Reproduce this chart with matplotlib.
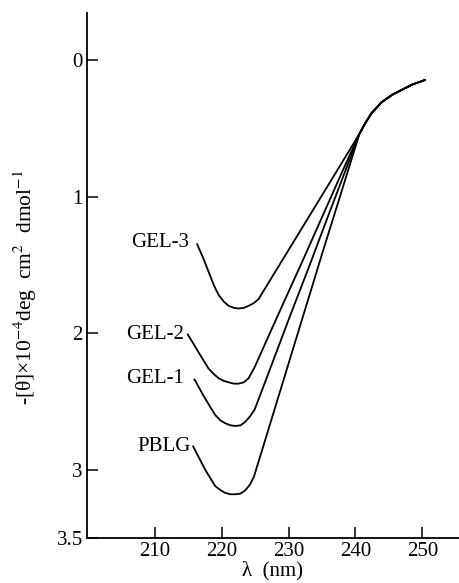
import matplotlib
matplotlib.use("Agg")
import matplotlib.pyplot as plt

plt.rcParams['font.family'] = ['Liberation Serif', 'DejaVu Serif']
plt.rcParams['mathtext.fontset'] = 'stix'

# shared long-wavelength tail
tail_x = [241.5, 242.4, 243.9, 245.5, 246.9, 248.5, 250.4]
tail_y = [0.46, 0.39, 0.31, 0.255, 0.22, 0.18, 0.147]

gel3_x = [216.3, 217.2, 218.0, 218.8, 219.5, 220.3, 221.0, 221.8, 222.5, 223.3, 224.0, 224.8, 225.5, 228.0, 231.0, 234.0, 237.0, 240.6]
gel3_y = [1.35, 1.45, 1.55, 1.65, 1.72, 1.77, 1.80, 1.815, 1.82, 1.815, 1.80, 1.78, 1.75, 1.55, 1.31, 1.07, 0.83, 0.54]

gel2_x = [214.9, 216.5, 218.0, 218.8, 219.5, 220.3, 221.0, 221.8, 222.5, 223.3, 224.0, 224.9, 227.0, 229.4, 232.0, 235.0, 238.0, 240.6]
gel2_y = [2.01, 2.14, 2.26, 2.30, 2.33, 2.35, 2.36, 2.37, 2.37, 2.36, 2.33, 2.25, 2.02, 1.76, 1.48, 1.15, 0.82, 0.54]

gel1_x = [215.9, 217.5, 219.0, 219.8, 220.5, 221.3, 222.0, 222.8, 223.5, 224.2, 224.9, 227.0, 230.0, 233.0, 236.0, 238.5, 240.6]
gel1_y = [2.34, 2.48, 2.60, 2.64, 2.66, 2.675, 2.68, 2.675, 2.65, 2.61, 2.56, 2.29, 1.90, 1.52, 1.13, 0.81, 0.54]

pblg_x = [215.7, 217.5, 219.0, 219.8, 220.5, 221.3, 222.0, 222.8, 223.5, 224.2, 224.8, 226.5, 229.0, 232.0, 235.0, 238.0, 240.6]
pblg_y = [2.83, 3.00, 3.12, 3.15, 3.17, 3.18, 3.18, 3.175, 3.15, 3.11, 3.05, 2.78, 2.38, 1.90, 1.42, 0.95, 0.54]

labels = ['GEL-3', 'GEL-2', 'GEL-1', 'PBLG']
label_x = [215.1, 214.4, 214.4, 215.3]
label_y = [1.34, 2.01, 2.33, 2.83]

xticks = [210, 220, 230, 240, 250]
yticks = [0, 1, 2, 3, 3.5]
yticklabels = ['0', '1', '2', '3', '3.5']

fig = plt.figure(figsize=(4.59, 5.83), dpi=100)
ax = fig.add_axes([0.1895, 0.0772, 0.8105, 0.9008])

for xs, ys in [(gel3_x, gel3_y), (gel2_x, gel2_y), (gel1_x, gel1_y), (pblg_x, pblg_y)]:
    ax.plot(xs + tail_x, ys + tail_y, color='black', lw=1.3, solid_joinstyle='round')

for t, x, y in zip(labels, label_x, label_y):
    ax.text(x, y, t, ha='right', va='center', fontsize=15)

ax.set_xlim(199.8, 255.5)
ax.set_ylim(3.5, -0.345)
ax.set_xticks(xticks)
ax.set_yticks(yticks)
ax.set_yticklabels(yticklabels)
for s in ['top', 'right']:
    ax.spines[s].set_visible(False)
for s in ['left', 'bottom']:
    ax.spines[s].set_linewidth(1.3)
ax.tick_params(direction='in', length=8, width=1.1, labelsize=15, pad=3)
ax.set_xlabel('λ  (nm)', fontsize=15, labelpad=0)
ax.set_ylabel('-[θ]×10$^{-4}$deg  cm$^2$  dmol$^{-1}$', fontsize=15.5)
ax.yaxis.set_label_coords(-0.13, 0.478)

fig.savefig('out.png', dpi=100)
